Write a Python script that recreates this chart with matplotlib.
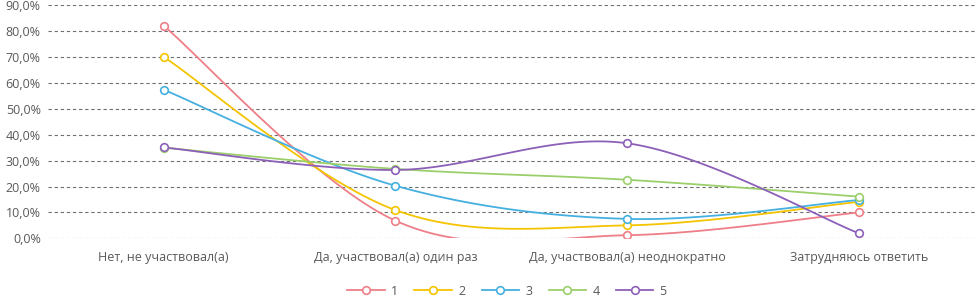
import numpy as np
import matplotlib
matplotlib.use("Agg")
import matplotlib.pyplot as plt
from matplotlib.lines import Line2D
from matplotlib.ticker import FuncFormatter

categories = ["Нет, не участвовал(а)", "Да, участвовал(а) один раз",
              "Да, участвовал(а) неоднократно", "Затрудняюсь ответить"]
series_names = ["1", "2", "3", "4", "5"]
s1 = [82.1, 6.8, 1.2, 10.0]
s2 = [70.1, 10.9, 5.0, 14.1]
s3 = [57.4, 20.3, 7.5, 14.8]
s4 = [35.0, 26.8, 22.6, 16.1]
s5 = [35.1, 26.4, 36.7, 1.9]
colors = ["#EE7F88", "#F5C400", "#45B0E0", "#9BCF6B", "#8C60B8"]

plt.rcParams["font.family"] = ["Open Sans", "DejaVu Sans"]


def smooth(x, y, n=40):
    # excel-ish smoothed line: cubic bezier, catmull-rom control points
    x = np.asarray(x, float)
    y = np.asarray(y, float)
    P = np.column_stack([x, y])
    pts = []
    for i in range(len(P) - 1):
        p0 = P[max(i - 1, 0)]
        p1 = P[i]
        p2 = P[i + 1]
        p3 = P[min(i + 2, len(P) - 1)]
        c1 = p1 + (p2 - p0) / 6
        c2 = p2 - (p3 - p1) / 6
        t = np.linspace(0, 1, n)[:, None]
        seg = ((1 - t) ** 3) * p1 + 3 * ((1 - t) ** 2) * t * c1 + 3 * (1 - t) * t ** 2 * c2 + t ** 3 * p2
        pts.append(seg if i == 0 else seg[1:])
    pts = np.vstack(pts)
    return pts[:, 0], pts[:, 1]


fig = plt.figure(figsize=(9.75, 2.97), dpi=100)
ax = fig.add_axes([0.049, 0.1976, 0.951, 0.7846])

xs = np.arange(len(categories))
for name, vals, c in zip(series_names, [s1, s2, s3, s4, s5], colors):
    sx, sy = smooth(xs, vals)
    ax.plot(sx, sy, color=c, lw=1.3, zorder=3)
    ax.plot(xs, vals, ls="none", marker="o", ms=5.5, mfc="white", mec=c, mew=1.2, zorder=4)

ax.set_xlim(-0.5, len(categories) - 0.5)
ax.set_ylim(0, 90)
ax.set_yticks(np.arange(0, 91, 10))
ax.yaxis.set_major_formatter(FuncFormatter(lambda v, p: f"{v:.1f}%".replace(".", ",")))
ax.set_xticks(xs)
ax.set_xticklabels(categories)
ax.grid(axis="y", color="#6F6F6F", ls=(0, (3, 2.5)), lw=0.8)
ax.set_axisbelow(True)
for sp in ax.spines.values():
    sp.set_visible(False)
ax.tick_params(length=0, labelsize=9, colors="#595959", pad=5)
ax.tick_params(axis="x", pad=9)

handles = [Line2D([], [], color=c, lw=1.3, marker="o", ms=5.5, mfc="white", mec=c, mew=1.2)
           for c in colors]
fig.legend(handles, series_names, loc="center", bbox_to_anchor=(0.52, 0.02), ncol=5,
           frameon=False, fontsize=9, labelcolor="#595959", handlelength=3.0,
           columnspacing=1.3, handletextpad=0.5)

fig.savefig("out.png", dpi=100)
